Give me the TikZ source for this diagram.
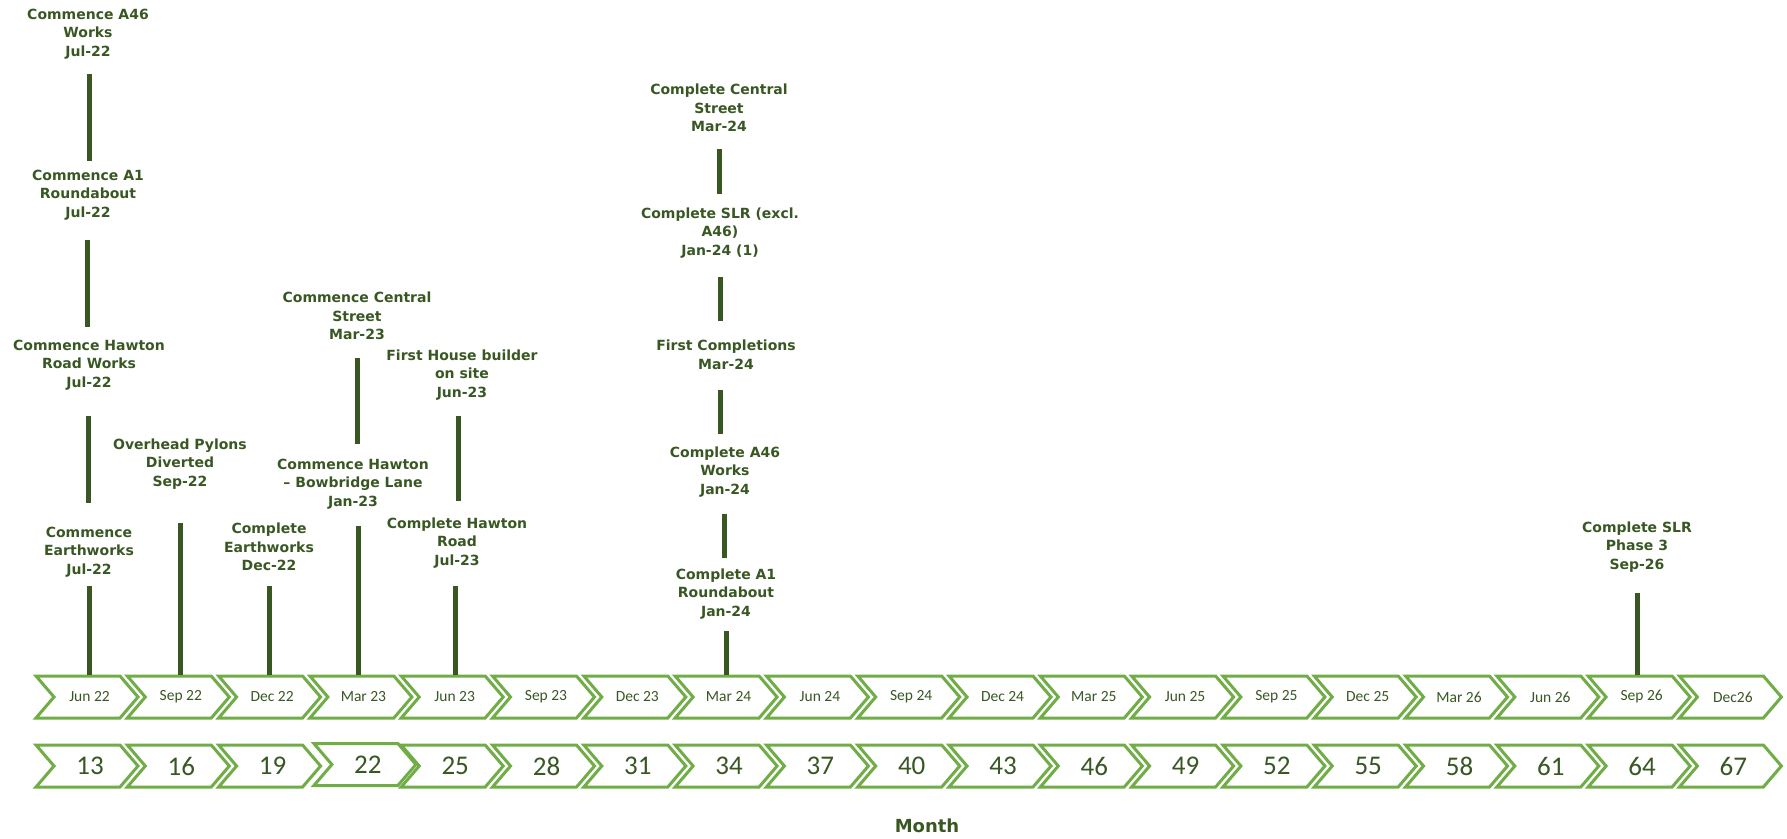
\documentclass[tikz,border=0pt]{standalone}
\usepackage{fontspec}
\setmainfont{DejaVu Sans}
\newfontfamily\chevfont{Carlito}
\usepackage{xcolor}
\definecolor{dark-green}{RGB}{56,87,35}
\definecolor{light-green}{RGB}{112,173,71}
\usetikzlibrary{calc}

\begin{document}
\begin{tikzpicture}[x=1pt,y=-1pt,
	event/.style={align=center,text=dark-green,inner sep=0pt,
		font=\bfseries\fontsize{14}{18.6}\selectfont},
	bar/.style={dark-green,line width=5pt},
	chevron/.style={light-green,line width=3pt,fill=white},
	quarter/.style={text=dark-green,font=\chevfont\fontsize{15.5}{18}\selectfont},
	count/.style={text=dark-green,font=\chevfont\fontsize{27}{30}\selectfont}]
	\useasboundingbox (0,0) rectangle (1787,838);

	% quarters
	\foreach \m [count=\i from 0] in {Jun 22,Sep 22,Dec 22,Mar 23,Jun 23,Sep 23,
		Dec 23,Mar 24,Jun 24,Sep 24,Dec 24,Mar 25,Jun 25,Sep 25,Dec 25,Mar 26,
		Jun 26,Sep 26,Dec26}{
		\coordinate (Q\i) at ({36+91.3*\i},676);
		\draw[chevron] (Q\i) -- ++(84,0) -- ++(18,21) -- ++(-18,21) -- ++(-84,0)
			-- ++(18,-21) -- cycle;
		\node[quarter] (D\i) at ($(Q\i)+(53.5,21)$) {\m};
	}

	% months
	\foreach \n [count=\i from 0] in {13,16,...,67}{
		\ifnum\n=22 \def\dx{4}\def\dy{-1.5}\else\def\dx{0}\def\dy{0}\fi
		\coordinate (K\i) at ({36+91.3*\i+\dx},{745+\dy});
		\draw[chevron] (K\i) -- ++(84,0) -- ++(18,21) -- ++(-18,21) -- ++(-84,0)
			-- ++(18,-21) -- cycle;
		\node[count] (N\i) at ($(K\i)+(54,21)$) {\n};
	}

%	=======================================

	\path[every node/.style=event]
		(88,34)   node (E1)  {Commence A46\\Works\\Jul-22}
		(88,195)  node (E2)  {Commence A1\\Roundabout\\Jul-22}
		(89,365)  node (E3)  {Commence Hawton\\Road Works\\Jul-22}
		(89,552)  node (E4)  {Commence\\Earthworks\\Jul-22}
		(180,464) node (E5)  {Overhead Pylons\\Diverted\\Sep-22}
		(269,547) node (E6)  {Complete\\Earthworks\\Dec-22}
		(357,316) node (E7)  {Commence Central\\Street\\Mar-23}
		(353,484) node (E8)  {Commence Hawton\\– Bowbridge Lane\\Jan-23}
		(462,375) node (E9)  {First House builder\\on site\\Jun-23}
		(457,543) node (E10) {Complete Hawton\\Road\\Jul-23}
		(719,108) node (E11) {Complete Central\\Street\\Mar-24}
		(720,233) node (E12) {Complete SLR (excl.\\A46)\\Jan-24 (1)}
		(726,355) node (E13) {First Completions\\Mar-24}
		(725,472) node (E14) {Complete A46\\Works\\Jan-24}
		(726,594) node (E15) {Complete A1\\Roundabout\\Jan-24}
		(1637,547) node (E16) {Complete SLR\\Phase 3\\Sep-26};

	\foreach \i/\x/\ya/\yb in {1/89/74/161,2/87/240/327,3/88/416/503,
		4/89/586/675,5/180/523/675,6/269/586/675,7/357/358/444,8/358/526/675,
		9/458/416/501,10/455/586/675,11/719/149/194,12/720/277/321,
		13/720/390/434,14/724/514/558,15/726/631/675,16/1637/593/675}{
		\coordinate (T\i) at (\x,\ya);
		\coordinate (B\i) at (\x,\yb);
		\draw[bar] (T\i) -- (B\i);
	}

	\node[event,font=\bfseries\fontsize{18}{22}\selectfont] (M) at (927,826) {Month};
\end{tikzpicture}
\end{document}
